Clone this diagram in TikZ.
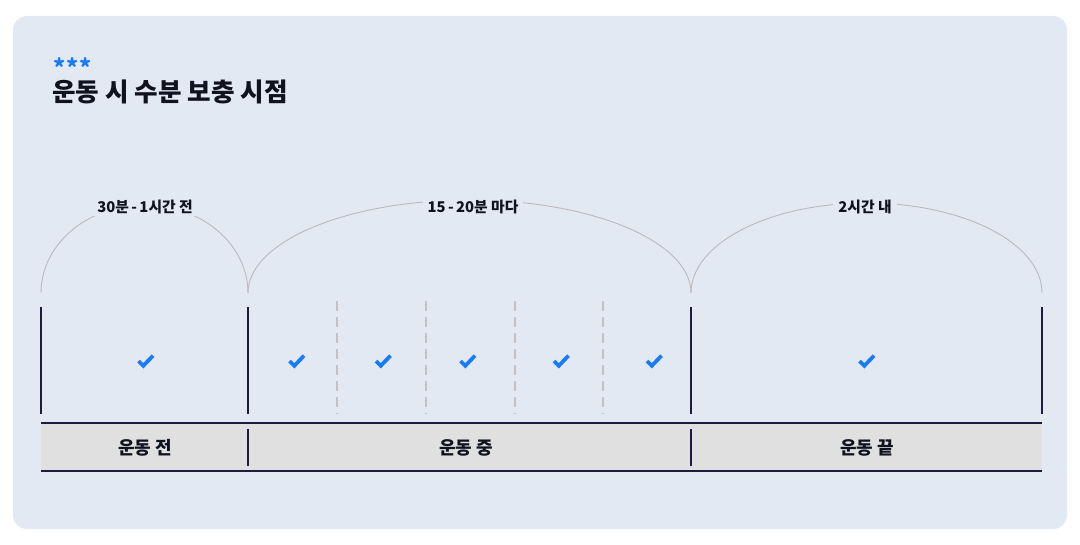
\documentclass[tikz,border=0pt]{standalone}
\usepackage{fontspec}
\setmainfont{Noto Sans CJK KR}
\definecolor{bg}{HTML}{E3E9F3}
\definecolor{navy}{HTML}{1C1C3E}
\definecolor{ink}{HTML}{10131F}
\definecolor{chkblue}{HTML}{1A7CF5}
\definecolor{arcgray}{HTML}{B9B9BE}
\definecolor{dashgray}{HTML}{C2C2C6}
\definecolor{barfill}{HTML}{E0E0E0}
\tikzset{
  solidv/.style={draw=navy, line width=2pt},
  dashv/.style={draw=dashgray, line width=1.3pt, dash pattern=on 10pt off 6pt},
  arcline/.style={draw=arcgray, line width=0.9pt},
  arclabel/.style={fill=bg, inner xsep=5pt, inner ysep=2pt, font=\bfseries\fontsize{14.8}{16}\selectfont, text=ink},
  barlabel/.style={font=\bfseries\fontsize{18}{20}\selectfont, text=ink},
  chkline/.style={draw=chkblue, line width=3.8pt, line join=miter},
  ck/.pic={\draw[chkline] (-7,-0.5) -- (-2.2,4.3) -- (7.5,-5.8);}
}
\begin{document}
\begin{tikzpicture}[x=1pt,y=-1pt]
\useasboundingbox (0,0) rectangle (1080,545);
\fill[white] (0,0) rectangle (1080,545);
\fill[bg, rounded corners=14pt] (13,16) rectangle (1067,529);

% title
\node[anchor=west, text=chkblue, font=\bfseries\fontsize{23}{23}\selectfont, inner sep=0pt] (stars) at (53,67) {*\kern1.2pt*\kern1.2pt*};
\node[anchor=west, text=ink, font=\bfseries\fontsize{25.6}{28}\selectfont, inner sep=0pt] (title) at (52,92) {운동 시 수분 보충 시점};

% arcs
\coordinate (a0) at (41,293);
\coordinate (a1) at (248,293);
\coordinate (a2) at (691,293);
\coordinate (a3) at (1042,293);
\draw[arcline] (a0) .. controls (41,244.4) and (87.3,205) .. (144.5,205) .. controls (201.7,205) and (248,244.4) .. (a1);
\draw[arcline] (a1) .. controls (248,241.6) and (347.2,200) .. (469.5,200) .. controls (591.8,200) and (691,241.6) .. (a2);
\draw[arcline] (a2) .. controls (691,243.3) and (769.6,203) .. (866.5,203) .. controls (963.4,203) and (1042,243.3) .. (a3);
\node[arclabel] (l1) at (145,207) {30분\,-\,1시간 전};
\node[arclabel] (l2) at (473,207) {15\,-\,20분 마다};
\node[arclabel] (l3) at (865,207) {2시간 내};

% vertical lines
\foreach \x [count=\i] in {41,248,691,1042} {
  \coordinate (vt\i) at (\x,307);
  \coordinate (vb\i) at (\x,414);
  \draw[solidv] (vt\i) -- (vb\i);
}
\foreach \x [count=\i] in {337,426,515,603} {
  \coordinate (dt\i) at (\x,301);
  \coordinate (db\i) at (\x,414);
  \draw[dashv] (dt\i) -- (db\i);
}

% check marks
\foreach \x in {145.5,296.5,383,467.5,561,654,866.5} {
  \pic at (\x,361.5) {ck};
}

% bottom bar
\fill[barfill] (41,423) rectangle (1042,470.5);
\coordinate (bl) at (41,423.3);
\coordinate (br) at (1042,423.3);
\coordinate (bbl) at (41,470.7);
\coordinate (bbr) at (1042,470.7);
\draw[solidv] (bl) -- (br);
\draw[solidv] (bbl) -- (bbr);
\coordinate (d1t) at (248,429);
\coordinate (d1b) at (248,466);
\coordinate (d2t) at (691,429);
\coordinate (d2b) at (691,466);
\draw[solidv] (d1t) -- (d1b);
\draw[solidv] (d2t) -- (d2b);
\node[barlabel] (b1) at (145,448) {운동 전};
\node[barlabel] (b2) at (466,448) {운동 중};
\node[barlabel] (b3) at (867,448) {운동 끝};
\end{tikzpicture}
\end{document}
